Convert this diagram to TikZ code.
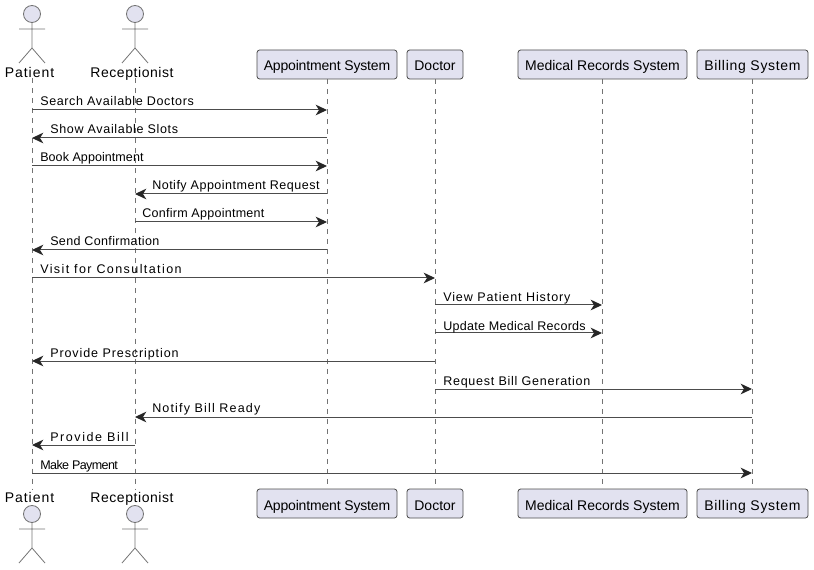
\documentclass[tikz,border=0pt]{standalone}
\usepackage{fontspec}
\setmainfont{Liberation Sans}
\usetikzlibrary{arrows.meta}
\newcommand{\spaced}[2]{{\addfontfeature{LetterSpace=#1}#2}}
\tikzset{party/.style={draw=black!70,fill=boxfill,rounded corners=2pt,line width=.6pt,minimum height=21.75pt,inner sep=0pt,text height=9.7pt,text depth=0pt,font=\fontsize{10.5}{12}\selectfont},
	actorname/.style={inner sep=0pt,anchor=base,font=\fontsize{10.5}{12}\selectfont},
	lifeline/.style={draw=black!55,dashed,dash pattern=on 3.75pt off 3.75pt,line width=.5pt},
	msg/.style={draw=black!70,line width=.75pt,-{Stealth[length=8.5pt,width=8pt,inset=2.5pt,color=black!85]}},
	msgtext/.style={inner sep=0pt,anchor=base west,font=\fontsize{9.4}{11}\selectfont},
	stick/.pic={
		\draw[draw=black!55,fill=boxfill,line width=.6pt] (0,0) circle (8.5);
		\draw[draw=black!55,line width=.6pt] (0,8.5) -- (0,34) (-13,15) -- (13,15) (-13,49) -- (0,34) -- (13,49);
	}}
\definecolor{boxfill}{HTML}{E2E2F0}
\begin{document}
\begin{tikzpicture}[x=.75pt,y=-.75pt]
	\useasboundingbox (0,0) rectangle (814,570);
	% top and bottom of the actors
	\pic at (32,14) {stick};
	\pic at (135,14) {stick};
	\pic at (32,514) {stick};
	\pic at (135,514) {stick};
	\node[actorname] (patientT) at (29.5,77.5) {\spaced{7}{Patient}};
	\node[actorname] (receptT) at (132,77.5) {\spaced{4}{Receptionist}};
	\node[actorname] (patientB) at (29.5,502) {\spaced{7}{Patient}};
	\node[actorname] (receptB) at (132,502) {\spaced{4}{Receptionist}};
	% boxes
	\foreach \name/\x/\w/\ls/\txt in {apptsys/327/140/-1.2/Appointment System,doctor/435/56/0/Doctor,records/602.5/169/0/Medical Records System,billing/752.5/111/5/Billing System}
	{
		\node[party,minimum width=\w*.75pt] (\name T) at (\x,64.5) {\spaced{\ls}{\txt}};
		\node[party,text height=11.2pt,minimum width=\w*.75pt] (\name B) at (\x,503.5) {\spaced{\ls}{\txt}};
	}
	% lifelines
	\draw[lifeline] (32,78.5) coordinate (patientS) -- (32,490) coordinate (patientE);
	\draw[lifeline] (135,78.5) coordinate (receptS) -- (135,490) coordinate (receptE);
	\foreach \name in {apptsys,doctor,records,billing}
		\draw[lifeline] (\name T) -- (\name B);
	% one point per row on each lifeline
	\foreach \name/\x in {patient/32,recept/135,apptsys/327,doctor/435,records/602,billing/752}
		\foreach \row/\y in {1/110,2/138,3/166,4/194,5/222,6/250,7/278,8/305,9/333,10/361,11/389,12/417,13/445,14/473}
			\coordinate (\name\row) at (\x,\y);
	% messages
	\draw[msg] (patient1) -- (apptsys1);
	\draw[msg] (apptsys2) -- (patient2);
	\draw[msg] (patient3) -- (apptsys3);
	\draw[msg] (apptsys4) -- (recept4);
	\draw[msg] (recept5) -- (apptsys5);
	\draw[msg] (apptsys6) -- (patient6);
	\draw[msg] (patient7) -- (doctor7);
	\draw[msg] (doctor8) -- (records8);
	\draw[msg] (doctor9) -- (records9);
	\draw[msg] (doctor10) -- (patient10);
	\draw[msg] (doctor11) -- (billing11);
	\draw[msg] (billing12) -- (recept12);
	\draw[msg] (recept13) -- (patient13);
	\draw[msg] (patient14) -- (billing14);
	% labels
	\node[msgtext] (m1) at (40,106) {\spaced{5}{Search Available Doctors}};
	\node[msgtext] (m2) at (50,134) {\spaced{5.2}{Show Available Slots}};
	\node[msgtext] (m3) at (40,162) {\spaced{.5}{Book Appointment}};
	\node[msgtext] (m4) at (152,190) {\spaced{3.9}{Notify Appointment Request}};
	\node[msgtext] (m5) at (142,218) {\spaced{2.1}{Confirm Appointment}};
	\node[msgtext] (m6) at (50,246) {\spaced{2.8}{Send Confirmation}};
	\node[msgtext] (m7) at (40,274) {\spaced{11.2}{Visit for Consultation}};
	\node[msgtext] (m8) at (443,302) {\spaced{7.2}{View Patient History}};
	\node[msgtext] (m9) at (443,330) {\spaced{2.2}{Update Medical Records}};
	\node[msgtext] (m10) at (50,358) {\spaced{7.2}{Provide Prescription}};
	\node[msgtext] (m11) at (443,385) {\spaced{5.9}{Request Bill Generation}};
	\node[msgtext] (m12) at (152,412.5) {\spaced{9.2}{Notify Bill Ready}};
	\node[msgtext] (m13) at (50,441) {\spaced{12.5}{Provide Bill}};
	\node[msgtext] (m14) at (40,469) {\spaced{-4.7}{Make Payment}};
\end{tikzpicture}
\end{document}
